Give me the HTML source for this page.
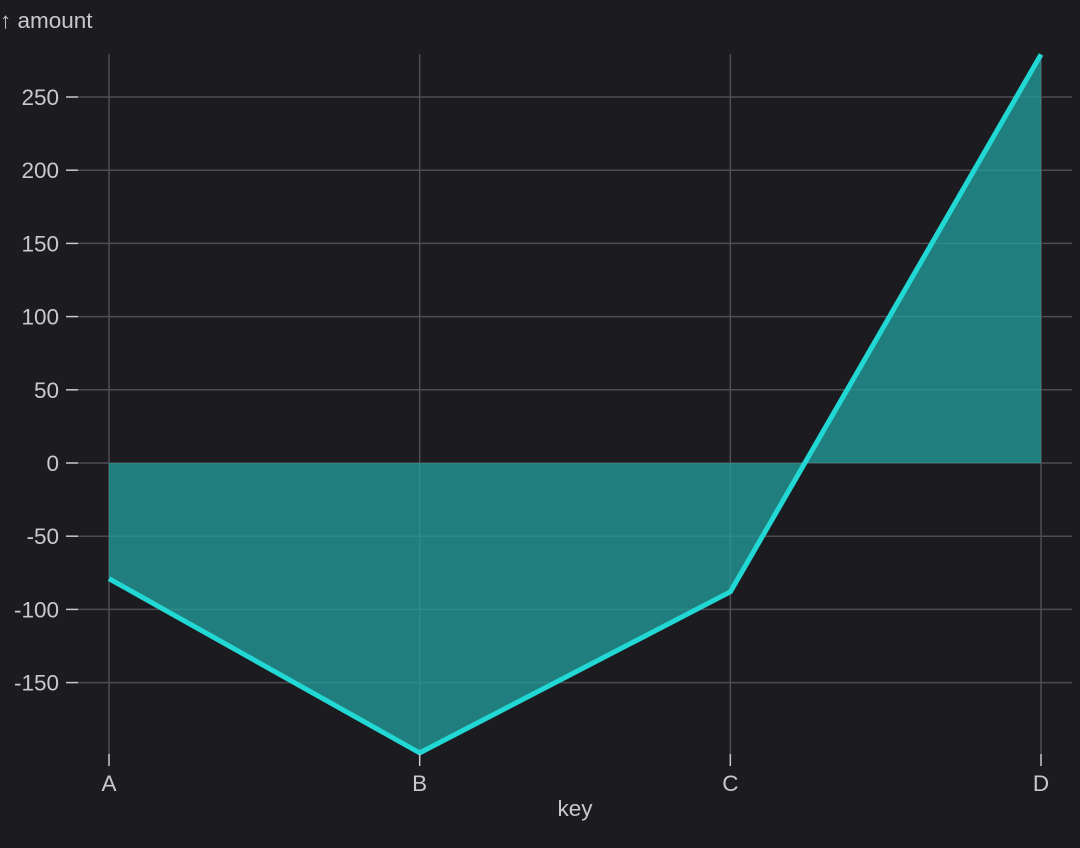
<!DOCTYPE html>
<html><head><meta charset="utf-8"><style>
html,body{margin:0;padding:0;background:#1c1c20;}
svg{display:block;font-family:"Liberation Sans",sans-serif;}
</style></head><body>
<svg id="chart" width="1080" height="848" viewBox="0 0 1080 848">
<rect width="1080" height="848" fill="#1c1c20"/>
<g id="grid"></g><g id="area"></g><g id="axes"></g>
</svg>
<script>
const categories = ["A","B","C","D"];
const amounts = [-79, -198, -88, 279];
const yTicks = [-150,-100,-50,0,50,100,150,200,250];

const NS="http://www.w3.org/2000/svg";
const x0=109, x1=1041;
function xScale(i){return x0+(x1-x0)*i/(categories.length-1);}
function yScale(v){return 463 - v*1.464;}
function mk(tag,attrs,parent,text){const e=document.createElementNS(NS,tag);for(const k in attrs)e.setAttribute(k,attrs[k]);if(text!==undefined)e.textContent=text;parent.appendChild(e);return e;}
const grid=document.getElementById('grid'), area=document.getElementById('area'), axes=document.getElementById('axes');
const txt="#c9c9cc";
const fs=22.5;
yTicks.forEach(t=>{
  const y=yScale(t);
  const l=mk('line',{x1:78,x2:1072,y1:y,y2:y,stroke:'#4c4c52','stroke-width':1.5},grid);
  
  
  mk('line',{x1:66,x2:78,y1:y,y2:y,stroke:txt,'stroke-width':1.5},axes);
  const lab=mk('text',{x:59,y:y+8,'text-anchor':'end','font-size':fs,fill:txt},axes,String(t));
  
  
});
categories.forEach((c,i)=>{
  const x=xScale(i);
  const l=mk('line',{x1:x,x2:x,y1:54,y2:754,stroke:'#4c4c52','stroke-width':1.5},grid);
  
  
  mk('line',{x1:x,x2:x,y1:754,y2:766,stroke:txt,'stroke-width':1.5},axes);
  const lab=mk('text',{x:x,y:791,'text-anchor':'middle','font-size':fs,fill:txt},axes,c);
  
  
});
let d='M'+xScale(0)+','+yScale(0);
amounts.forEach((v,i)=>{d+=' L'+xScale(i)+','+yScale(v);});
d+=' L'+xScale(amounts.length-1)+','+yScale(0)+' Z';
const a=mk('path',{d:d,fill:'#21a09d','fill-opacity':0.75},area);


const pts=amounts.map((v,i)=>xScale(i)+','+yScale(v)).join(' ');
const ln=mk('polyline',{points:pts,fill:'none',stroke:'#22d8d4','stroke-width':5,'stroke-linejoin':'round'},area);


const yt=mk('text',{x:0,y:28,'font-size':fs,fill:txt},axes,'↑ amount');


const xt=mk('text',{x:575,y:816,'text-anchor':'middle','font-size':fs,fill:txt},axes,'key');


</script>
</body></html>
